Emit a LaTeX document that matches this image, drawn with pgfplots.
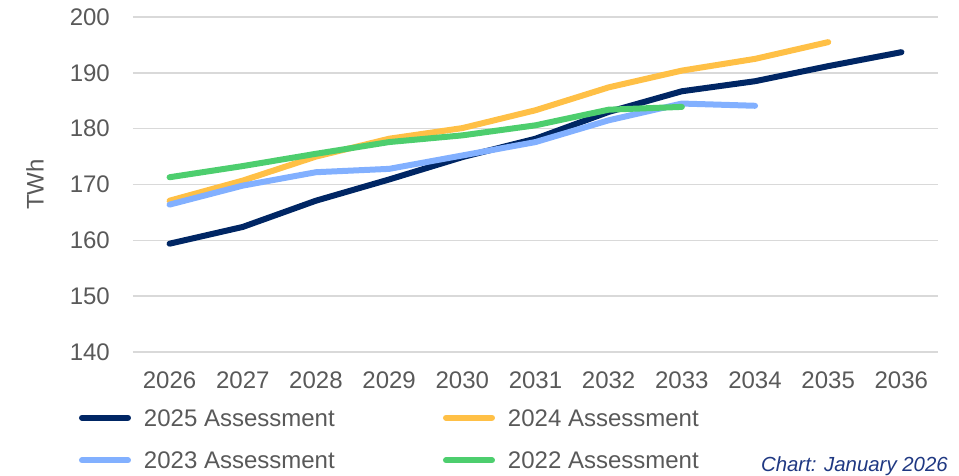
\documentclass[border=0pt]{standalone}
\usepackage{fontspec}
\setmainfont{Liberation Sans}
\usepackage{pgfplots}
\pgfplotsset{compat=1.18}
\definecolor{navy}{RGB}{0,38,100}
\definecolor{gold}{RGB}{255,192,70}
\definecolor{lblue}{RGB}{130,176,255}
\definecolor{lgreen}{RGB}{77,206,110}
\definecolor{txtgray}{RGB}{89,89,89}
\definecolor{gridgray}{RGB}{217,217,217}
\definecolor{notecol}{RGB}{31,56,130}
\begin{document}
\begin{tikzpicture}
\path[use as bounding box] (0pt,0pt) rectangle (959pt,476pt);
\begin{axis}[
  at={(133pt,124pt)}, anchor=south west,
  scale only axis, width=805pt, height=335pt,
  xmin=2025.5, xmax=2036.5, ymin=140, ymax=200,
  xtick={2026,...,2036}, ytick={140,150,...,200},
  axis line style={draw=none}, major tick length=0pt,
  ymajorgrids, grid style={gridgray, line width=1.5pt},
  clip=false,
  /pgf/number format/assume math mode=true,
  /pgf/number format/1000 sep={},
  tick label style={font=\fontsize{24}{24}\selectfont, text=txtgray},
  yticklabel style={inner sep=0pt, xshift=-23pt},
  xticklabel style={inner sep=0pt, yshift=-20pt},
  ylabel={TWh},
  ylabel style={at={(axis description cs:-0.1217,0.5)}, anchor=center, font=\fontsize{24}{24}\selectfont, text=txtgray, rotate=0},
  legend columns=2,
  legend cell align=left,
  legend style={at={(axis description cs:-0.0671,-0.171)}, anchor=north west, draw=none, fill=none,
    inner sep=0pt, outer sep=0pt, font=\fontsize{24}{24}\selectfont, text=txtgray,
    nodes={inner sep=0pt, text depth=0pt}, row sep=26pt, column sep=0pt},
  legend image code/.code={\path[draw=none,fill=none] (0pt,-3pt) rectangle (65pt,3pt); \draw[line width=6pt,line cap=round] (3pt,0pt)--(49pt,0pt);},
  every axis plot/.append style={line width=6pt, line cap=round, line join=round, mark=none},
]
\addplot[navy] coordinates {(2026,159.4)(2027,162.4)(2028,167.1)(2029,170.9)(2030,174.9)(2031,178.2)(2032,183.0)(2033,186.7)(2034,188.5)(2035,191.2)(2036,193.7)};
\addlegendentry{\makebox[299pt][l]{2025 Assessment}}
\addplot[gold] coordinates {(2026,167.1)(2027,170.7)(2028,175.0)(2029,178.2)(2030,180.1)(2031,183.3)(2032,187.4)(2033,190.4)(2034,192.5)(2035,195.5)};
\addlegendentry{2024 Assessment}
\addplot[lblue] coordinates {(2026,166.4)(2027,169.8)(2028,172.2)(2029,172.8)(2030,175.2)(2031,177.6)(2032,181.5)(2033,184.5)(2034,184.1)};
\addlegendentry{\makebox[299pt][l]{2023 Assessment}}
\addplot[lgreen] coordinates {(2026,171.3)(2027,173.3)(2028,175.5)(2029,177.6)(2030,178.8)(2031,180.6)(2032,183.4)(2033,183.9)};
\addlegendentry{2022 Assessment}
\end{axis}
\node[anchor=base east, inner sep=0pt, font=\fontsize{20.4}{20.4}\selectfont\itshape, text=notecol] at (948pt,4pt) {Chart: January 2026};
\end{tikzpicture}
\end{document}
